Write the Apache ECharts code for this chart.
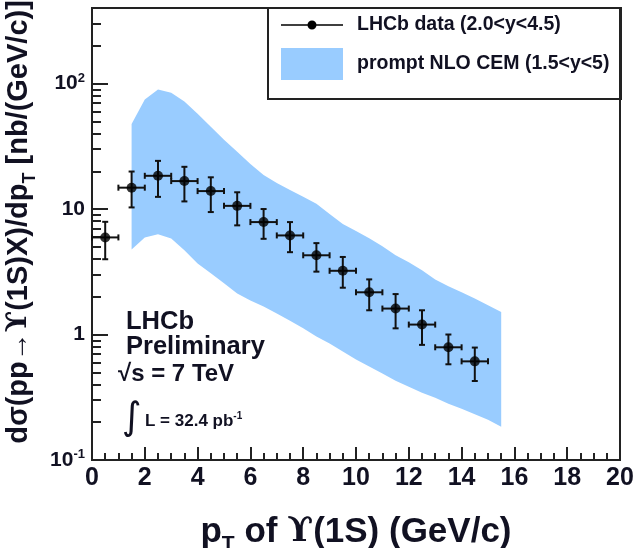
<!DOCTYPE html>
<html>
<head>
<meta charset="utf-8">
<script src="https://cdn.jsdelivr.net/npm/echarts@6/dist/echarts.min.js"></script>
<style>
  html, body { margin: 0; padding: 0; background: #fff; }
  #chart { width: 638px; height: 548px; }
</style>
</head>
<body>
<div id="chart"></div>
<script>
// ---- Measured Upsilon(1S) cross-section, 2.0 < y < 4.5 (nb per GeV/c) ----
const ptCenters = [0.5, 1.5, 2.5, 3.5, 4.5, 5.5, 6.5, 7.5, 8.5, 9.5, 10.5, 11.5, 12.5, 13.5, 14.5];
const ptHalfWidth = 0.5;
const xsValues = [5.94, 14.8, 18.4, 16.7, 13.9, 10.6, 7.87, 6.16, 4.28, 3.22, 2.17, 1.61, 1.20, 0.791, 0.611];
const xsUpper  = [7.91, 19.9, 24.2, 21.7, 17.9, 13.6, 10.0, 7.87, 5.35, 4.15, 2.75, 2.10, 1.56, 1.00, 0.787];
const xsLower  = [3.98, 10.3, 12.5, 11.5, 9.46, 7.41, 5.79, 4.53, 3.17, 2.36, 1.56, 1.12, 0.827, 0.579, 0.426];

// ---- Prompt NLO CEM prediction band, 1.5 < y < 5 ----
const bandPt   = [1.5, 2, 2.5, 3, 3.5, 4, 4.5, 5, 5.5, 6, 6.5, 7, 7.5, 8, 8.5, 9, 9.5, 10,
                  10.5, 11, 11.5, 12, 12.5, 13, 13.5, 14, 14.5, 15, 15.5];
const bandHigh = [47.6, 74.5, 89.5, 84.3, 72.1, 57.5, 45.3, 35.6, 28.6, 22.9, 18.7, 16.1, 14.2, 12.5,
                  11.0, 9.12, 7.59, 6.67, 5.86, 5.06, 4.29, 3.77, 3.25, 2.75, 2.42, 2.17, 1.94, 1.71, 1.51];
const bandLow  = [4.76, 5.94, 6.31, 5.83, 4.70, 3.68, 3.08, 2.56, 2.12, 1.87, 1.67, 1.47, 1.29, 1.12,
                  0.964, 0.847, 0.731, 0.631, 0.555, 0.488, 0.428, 0.384, 0.344, 0.313, 0.281, 0.256, 0.232, 0.209, 0.184];

// ---- Axis ticks ----
const xRange = [0, 20];
const xMajorStep = 2;
const yRange = [0.1, 400];
const yMajorTicks = [0.1, 1, 10, 100];
const yMinorTicks = [0.2, 0.3, 0.4, 0.5, 0.6, 0.7, 0.8, 0.9,
                     2, 3, 4, 5, 6, 7, 8, 9,
                     20, 30, 40, 50, 60, 70, 80, 90,
                     200, 300];

const dataName = 'LHCb data (2.0<y<4.5)';
const bandName = 'prompt NLO CEM (1.5<y<5)';

const FONT = '"Liberation Sans", Arial, Helvetica, sans-serif';
const INK = '#111122';
const BAND = '#99ccff';

function yLabel(v) {
  const e = Math.round(Math.log10(v));
  if (e === -1) return '{m|10}{e|-1}';
  if (e === 0) return '{m|1}';
  if (e === 1) return '{m|10}';
  return '{m|10}{e|' + e + '}';
}

const chart = echarts.init(document.getElementById('chart'), null, { renderer: 'canvas' });

const option = {
  backgroundColor: '#fff',
  animation: false,
  grid: {
    left: 92, right: 18, top: 8, bottom: 88,
    outerBoundsMode: 'none',
    containLabel: false,
    show: true, borderColor: '#222', borderWidth: 2, backgroundColor: 'transparent'
  },
  legend: {
    orient: 'vertical',
    left: 281, top: 15,
    itemWidth: 62, itemHeight: 32, itemGap: 13,
    padding: 0,
    selectedMode: false,
    textStyle: { fontFamily: FONT, fontWeight: 'bold', fontSize: 19.5, color: INK, padding: [0, 0, 0, 9] },
    data: [
      {
        name: dataName,
        icon: 'path://M0 3.75 L62 3.75 L62 5.25 L0 5.25 Z M26.5 4.5 A4.5 4.5 0 1 1 35.5 4.5 A4.5 4.5 0 1 1 26.5 4.5 Z',
        itemStyle: { color: '#000' }
      },
      { name: bandName, icon: 'rect', itemStyle: { color: BAND } }
    ]
  },
  xAxis: {
    type: 'value',
    min: xRange[0], max: xRange[1], interval: xMajorStep,
    axisLine: { show: true, lineStyle: { color: '#222', width: 2 } },
    axisTick: { show: true, inside: true, length: 13, lineStyle: { color: '#222', width: 2 } },
    minorTick: { show: true, splitNumber: 4, length: 7, lineStyle: { color: '#222', width: 2 } },
    splitLine: { show: false },
    axisLabel: { margin: 6, fontFamily: FONT, fontWeight: 'bold', fontSize: 25, color: INK },
    name: 'p{sub|T} of {u|ϒ}(1S) (GeV/c)',
    nameLocation: 'middle',
    nameGap: 49,
    nameTextStyle: {
      fontFamily: FONT, fontWeight: 'bold', fontSize: 35, color: INK,
      rich: {
        sub: { fontFamily: FONT, fontWeight: 'bold', fontSize: 21, color: INK, verticalAlign: 'bottom', lineHeight: 46 },
        u: { fontFamily: '"DejaVu Serif", serif', fontSize: 34, color: INK }
      }
    }
  },
  yAxis: [
    {
      type: 'log', logBase: 10,
      min: yRange[0], max: yRange[1],
      axisLine: { show: true, lineStyle: { color: '#222', width: 2 } },
      axisTick: { show: true, inside: true, length: 16, customValues: yMajorTicks, lineStyle: { color: '#222', width: 2 } },
      splitLine: { show: false },
      axisLabel: {
        customValues: yMajorTicks,
        margin: 7,
        formatter: yLabel,
        rich: {
          m: { fontFamily: FONT, fontWeight: 'bold', fontSize: 21, color: INK, lineHeight: 24 },
          e: { fontFamily: FONT, fontWeight: 'bold', fontSize: 13, color: INK, verticalAlign: 'top', lineHeight: 24 }
        }
      },
      name: 'dσ(pp→{u|ϒ}(1S)X)/dp{sub|T} [nb/(GeV/c)]',
      nameLocation: 'middle',
      nameRotate: 90,
      nameGap: 25,
      nameTextStyle: {
        fontFamily: FONT, fontWeight: 'bold', fontSize: 29, color: INK,
        padding: [0, 0, 0, 24],
        rich: {
          sub: { fontFamily: FONT, fontWeight: 'bold', fontSize: 18, color: INK, verticalAlign: 'bottom', lineHeight: 40 },
          u: { fontFamily: '"DejaVu Serif", serif', fontSize: 28, color: INK }
        }
      }
    },
    {
      // minor (2..9) log ticks on the same scale
      type: 'log', logBase: 10,
      min: yRange[0], max: yRange[1],
      position: 'left',
      axisLine: { show: false },
      axisTick: { show: true, inside: true, length: 9, customValues: yMinorTicks, lineStyle: { color: '#222', width: 2 } },
      axisLabel: { show: false },
      splitLine: { show: false }
    }
  ],
  series: [
    {
      name: bandName,
      type: 'custom',
      z: 1,
      itemStyle: { color: BAND },
      encode: { x: 0, y: [1, 2] },
      data: bandPt.map((x, i) => [x, bandLow[i], bandHigh[i]]),
      renderItem(params, api) {
        if (params.dataIndex !== 0) return null;
        const pts = [];
        for (let i = 0; i < bandPt.length; i++) pts.push(api.coord([bandPt[i], bandHigh[i]]));
        for (let i = bandPt.length - 1; i >= 0; i--) pts.push(api.coord([bandPt[i], bandLow[i]]));
        return { type: 'polygon', shape: { points: pts }, style: { fill: BAND, stroke: null } };
      }
    },
    {
      name: dataName,
      type: 'custom',
      z: 3,
      itemStyle: { color: '#000' },
      encode: { x: 0, y: 1 },
      data: ptCenters.map((x, i) => [x, xsValues[i], xsLower[i], xsUpper[i]]),
      renderItem(params, api) {
        const x = api.value(0), y = api.value(1), lo = api.value(2), hi = api.value(3);
        const c = api.coord([x, y]);
        const l = api.coord([x - ptHalfWidth, y]);
        const r = api.coord([x + ptHalfWidth, y]);
        const t = api.coord([x, hi]);
        const b = api.coord([x, lo]);
        const cap = 3;
        const st = { stroke: '#111', lineWidth: 2 };
        return {
          type: 'group',
          children: [
            { type: 'line', shape: { x1: l[0], y1: c[1], x2: r[0], y2: c[1] }, style: st },
            { type: 'line', shape: { x1: c[0], y1: t[1], x2: c[0], y2: b[1] }, style: st },
            { type: 'line', shape: { x1: c[0] - cap, y1: t[1], x2: c[0] + cap, y2: t[1] }, style: st },
            { type: 'line', shape: { x1: c[0] - cap, y1: b[1], x2: c[0] + cap, y2: b[1] }, style: st },
            { type: 'line', shape: { x1: l[0], y1: c[1] - cap, x2: l[0], y2: c[1] + cap }, style: st },
            { type: 'line', shape: { x1: r[0], y1: c[1] - cap, x2: r[0], y2: c[1] + cap }, style: st }
          ]
        };
      }
    },
    {
      name: dataName,
      type: 'scatter',
      z: 4,
      symbol: 'circle',
      symbolSize: 10,
      itemStyle: { color: '#000' },
      data: ptCenters.map((x, i) => [x, xsValues[i]])
    }
  ],
  graphic: [
    {
      type: 'rect', z: 10,
      shape: { x: 268, y: 8, width: 353, height: 91 },
      style: { fill: null, stroke: '#222', lineWidth: 2 }
    },
    {
      type: 'text', left: 126, top: 309, z: 10,
      style: { text: 'LHCb', font: 'bold 25.5px ' + FONT, fill: INK }
    },
    {
      type: 'text', left: 126, top: 334, z: 10,
      style: { text: 'Preliminary', font: 'bold 25.5px ' + FONT, fill: INK }
    },
    {
      type: 'text', left: 118, top: 362, z: 10,
      style: { text: '√s = 7 TeV', font: 'bold 24px ' + FONT, fill: INK }
    },
    {
      type: 'text', left: 122, top: 400, z: 10,
      style: { text: '∫', font: '38px "DejaVu Sans", sans-serif', fill: INK }
    },
    {
      type: 'text', left: 145, top: 411, z: 10,
      style: {
        text: '{a|L = 32.4 pb}{s|-1}',
        rich: {
          a: { font: 'bold 17px ' + FONT, fill: INK, lineHeight: 20 },
          s: { font: 'bold 10px ' + FONT, fill: INK, verticalAlign: 'top', lineHeight: 20 }
        }
      }
    }
  ]
};

chart.setOption(option);
</script>
</body>
</html>
